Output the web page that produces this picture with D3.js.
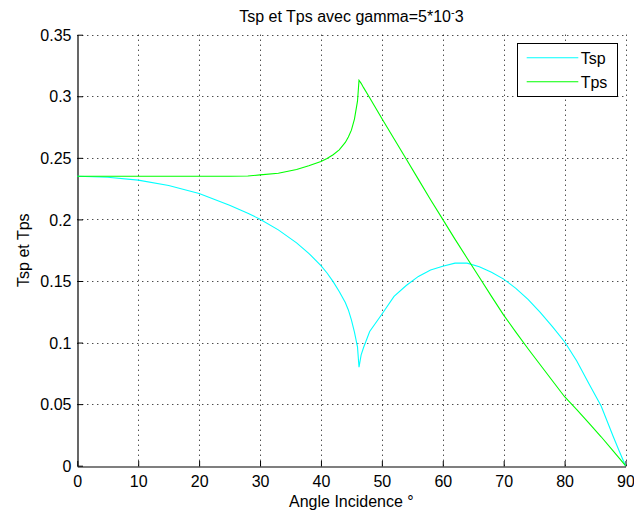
<!DOCTYPE html>
<html>
<head>
<meta charset="utf-8">
<script src="https://cdn.jsdelivr.net/npm/d3@7"></script>
<style>
  html, body { margin: 0; padding: 0; background: #fff; }
  svg { display: block; font-family: "Liberation Sans", Arial, sans-serif; }
</style>
</head>
<body>
<svg id="chart" width="634" height="515"></svg>
<script>
const angles = [0,5,10,15,20,25,28,30,33,36,38,40,41,42,43,44,44.5,45,45.5,46,46.25,46.6,47,48,50,52,54,56,58,60,62,64,66,68,70,72,74,76,78,80,82,84,86,88,89,90];
const tsp = [0.235,0.2342,0.2319,0.2275,0.2211,0.2115,0.205,0.2002,0.1915,0.181,0.1725,0.1625,0.1565,0.1495,0.1415,0.1325,0.1265,0.1185,0.1085,0.0965,0.080,0.090,0.096,0.109,0.123,0.1375,0.1463,0.1537,0.159,0.162,0.1645,0.1645,0.1615,0.157,0.1515,0.144,0.135,0.1245,0.113,0.1007,0.085,0.0665,0.0485,0.0235,0.0115,0];
const tps = [0.235,0.235,0.235,0.235,0.235,0.235,0.2352,0.2362,0.2375,0.2405,0.2435,0.247,0.2495,0.2525,0.2565,0.2625,0.267,0.2725,0.2815,0.296,0.313,0.3105,0.307,0.2988,0.282,0.2655,0.249,0.2325,0.216,0.2,0.184,0.1685,0.153,0.1375,0.1223,0.1085,0.095,0.082,0.069,0.056,0.0455,0.0345,0.0235,0.0118,0.006,0];
const xTicks = [0,10,20,30,40,50,60,70,80,90];
const yTicks = [0,0.05,0.1,0.15,0.2,0.25,0.3,0.35];
const seriesNames = ["Tsp","Tps"];
const seriesColors = ["#00ffff","#00ff00"];

const svg = d3.select("#chart");
const L = 77.3, R = 625.5, T = 34.7, B = 465.7;
const x = d3.scaleLinear().domain([0,90]).range([L,R]);
const y = d3.scaleLinear().domain([0,0.35]).range([B,T]);

svg.append("rect").attr("width",634).attr("height",515).attr("fill","#fff");

// grid
const grid = svg.append("g").attr("stroke","#000").attr("stroke-width",1).attr("stroke-dasharray","1 4");
grid.selectAll("line.gx").data(xTicks.slice(1)).enter().append("line")
  .attr("x1",d=>Math.round(x(d))+0.5).attr("x2",d=>Math.round(x(d))+0.5)
  .attr("y1",T).attr("y2",B);
grid.selectAll("line.gy").data(yTicks.slice(1)).enter().append("line")
  .attr("y1",d=>Math.round(y(d))+0.5).attr("y2",d=>Math.round(y(d))+0.5)
  .attr("x1",L).attr("x2",R);

// axes
const xAxis = d3.axisBottom(x).tickValues(xTicks).tickSizeInner(-5.5).tickSizeOuter(0).tickPadding(11).tickFormat(d3.format("d"));
const yAxis = d3.axisLeft(y).tickValues(yTicks).tickSizeInner(-5.5).tickSizeOuter(0).tickPadding(11).tickFormat(d=> d===0 ? "0" : String(+d.toFixed(2)));
const gx = svg.append("g").attr("transform",`translate(0,${Math.round(B)+0.5})`).call(xAxis);
const gy = svg.append("g").attr("transform",`translate(${Math.round(L)+0.5},0)`).call(yAxis);
[gx,gy].forEach(g=>{
  g.select(".domain").attr("stroke","#000").attr("stroke-width",1.2);
  g.selectAll(".tick line").attr("stroke","#000");
  g.selectAll("text").attr("font-family","Liberation Sans, Arial, sans-serif").attr("font-size",16).attr("fill","#000");
});
gx.selectAll(".tick text").attr("y",20.5).attr("dy","0");
gy.selectAll(".tick text").attr("x",-6).attr("dy","0.35em");

// lines
const lineGen = d3.line().x(d=>x(d[0])).y(d=>y(d[1]));
[tsp,tps].forEach((vals,i)=>{
  svg.append("path").datum(angles.map((a,j)=>[a,vals[j]]))
    .attr("fill","none").attr("stroke",seriesColors[i]).attr("stroke-width",1.1)
    .attr("d",lineGen);
});

// title
const title = svg.append("text").attr("x",(L+R)/2).attr("y",21.5).attr("text-anchor","middle")
  .attr("font-size",16).attr("fill","#000");
title.append("tspan").text("Tsp et Tps avec gamma=5*10");
title.append("tspan").attr("font-size",11).attr("dy",-6).text("-");
title.append("tspan").attr("dy",6).text("3");

// axis labels
svg.append("text").attr("x",(L+R)/2).attr("y",507).attr("text-anchor","middle")
  .attr("font-size",16).attr("fill","#000").text("Angle Incidence °");
svg.append("text").attr("transform",`translate(28.5,${(T+B)/2}) rotate(-90)`).attr("text-anchor","middle")
  .attr("font-size",16).attr("fill","#000").text("Tsp et Tps");

// legend
const lg = svg.append("g");
lg.append("rect").attr("x",517.5).attr("y",43.5).attr("width",100).attr("height",53)
  .attr("fill","#fff").attr("stroke","#000").attr("stroke-width",1);
const legendY = [57.7, 81.7];
seriesNames.forEach((n,i)=>{
  lg.append("line").attr("x1",526.7).attr("x2",578.3).attr("y1",legendY[i]).attr("y2",legendY[i])
    .attr("stroke",seriesColors[i]).attr("stroke-width",1.1);
  lg.append("text").attr("x",580.7).attr("y",legendY[i]+6.2).attr("font-size",16).attr("fill","#000").text(n);
});
</script>
</body>
</html>
